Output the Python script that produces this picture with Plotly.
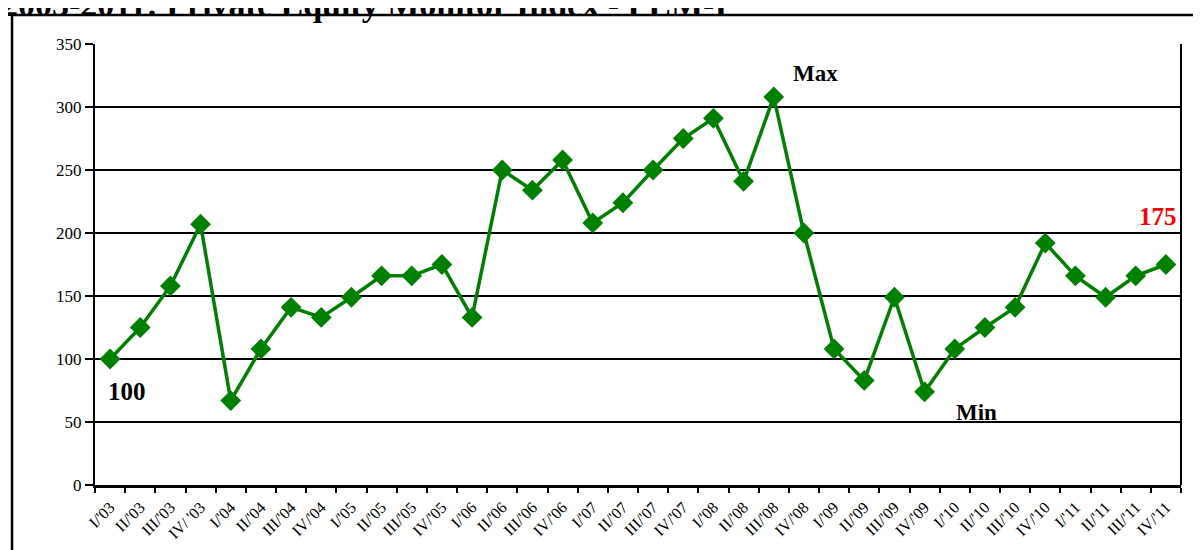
import plotly.graph_objects as go

quarters = ["I/'03", "II/'03", "III/'03", "IV/ '03", "I/'04", "II/'04", "III/'04", "IV/'04",
            "I/'05", "II/'05", "III/'05", "IV/'05", "I/'06", "II/'06", "III/'06", "IV/'06",
            "I/'07", "II/'07", "III/'07", "IV/'07", "I/'08", "II/'08", "III/'08", "IV/'08",
            "I/'09", "II/'09", "III/'09", "IV/'09", "I/'10", "II/'10", "III/'10", "IV/'10",
            "I/'11", "II/'11", "III/'11", "IV/'11"]
pem_index = [100, 125, 158, 207, 67, 108, 141, 133,
             149, 166, 166, 175, 133, 250, 234, 258,
             208, 224, 250, 275, 291, 241, 308, 200,
             108, 83, 149, 74, 108, 125, 141, 192,
             166, 149, 166, 175]
y_ticks = [0, 50, 100, 150, 200, 250, 300, 350]
title_text = "2003-2011: Private Equity Monitor Index - PEM-I"
max_label_at = "III/'08"
min_label_at = "IV/'09"

serif = "Liberation Serif"
green = "#008000"

fig = go.Figure()
fig.add_trace(go.Scatter(
    x=quarters, y=pem_index, mode="lines+markers",
    line=dict(color=green, width=3.5),
    marker=dict(symbol="diamond", size=16, color=green),
    showlegend=False, hoverinfo="x+y",
))

i_max = quarters.index(max_label_at)
i_min = quarters.index(min_label_at)
ann_font = dict(family=serif, size=23, color="black")
fig.add_annotation(x=quarters[0], y=pem_index[0], text="<b>%d</b>" % pem_index[0],
                   showarrow=False, xshift=17, yshift=-32, font=dict(family=serif, size=25, color="black"))
fig.add_annotation(x=quarters[i_max], y=pem_index[i_max], text="<b>Max</b>",
                   showarrow=False, xshift=42, yshift=23, font=ann_font)
fig.add_annotation(x=quarters[i_min], y=pem_index[i_min], text="<b>Min</b>",
                   showarrow=False, xshift=52, yshift=-21, font=ann_font)
fig.add_annotation(x=quarters[-1], y=pem_index[-1], text="<b>%d</b>" % pem_index[-1],
                   showarrow=False, xshift=-8, yshift=48, font=dict(family=serif, size=25, color="red"))

# title (partly cut off at top as in reference)
fig.add_annotation(xref="paper", yref="paper", x=-0.088, y=1.0, yshift=19, xanchor="left", yanchor="bottom",
                   text="<b>" + title_text + "</b>", showarrow=False,
                   font=dict(family=serif, size=34, color="black"))

# outer frame
fig.add_shape(type="rect", xref="paper", yref="paper", x0=-0.0764, x1=1.05, y0=-0.3, y1=1.066,
              line=dict(color="black", width=2.5), fillcolor="rgba(0,0,0,0)", layer="below")

fig.update_layout(
    width=1193, height=542,
    margin=dict(l=87, r=20, t=36, b=65, autoexpand=False),
    paper_bgcolor="white", plot_bgcolor="white",
    font=dict(family=serif, color="black"),
)
fig.update_xaxes(
    type="category", showgrid=False, showline=True, linecolor="black", linewidth=2.5,
    ticks="outside", tickson="boundaries", ticklen=5, tickwidth=2, tickcolor="black",
    tickangle=-45, tickfont=dict(family=serif, size=16, color="black"), ticklabelstandoff=4,
    mirror=False, range=[-0.5, len(quarters) - 0.5], automargin=False,
)
fig.update_yaxes(
    range=[0, 350], tickvals=y_ticks, showgrid=True, gridcolor="black", gridwidth=1.5,
    showline=True, linecolor="black", linewidth=2, ticks="outside", ticklen=8, tickwidth=2,
    tickcolor="black", tickfont=dict(family=serif, size=17, color="black"), zeroline=False,
    automargin=False,
)
# right border of plot area
fig.add_shape(type="line", xref="paper", yref="paper", x0=1, x1=1, y0=0, y1=1,
              line=dict(color="black", width=2))

fig.write_html("out.html")
